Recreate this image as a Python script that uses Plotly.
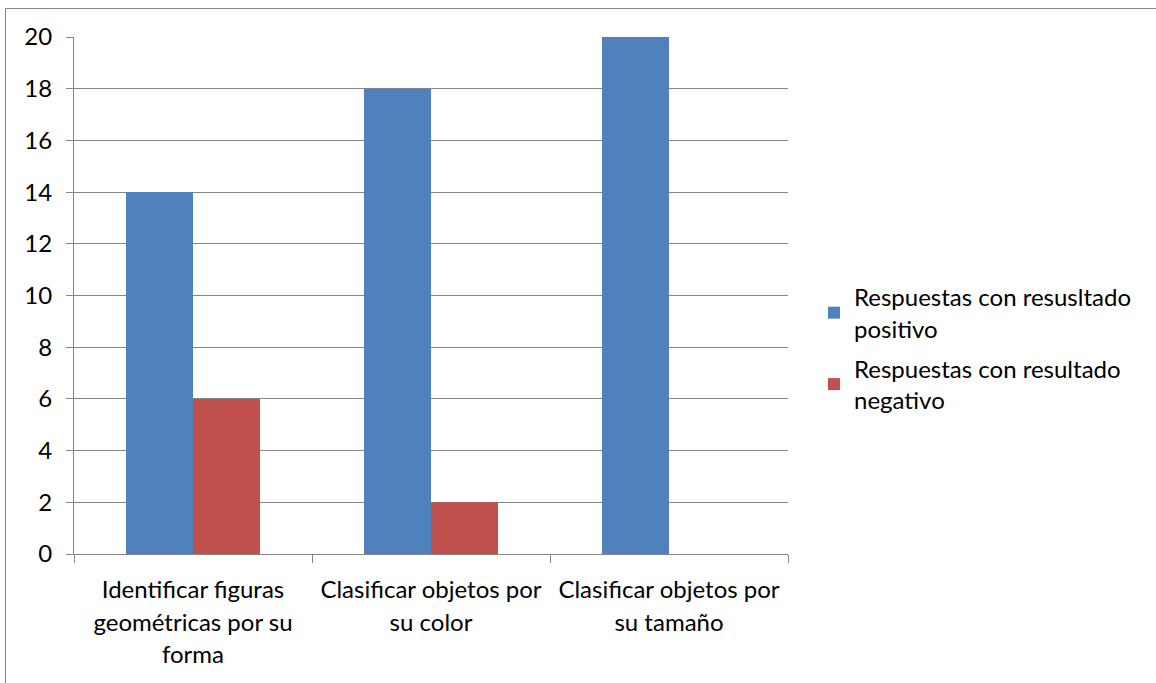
import plotly.graph_objects as go

categories = ["Identificar figuras<br>geométricas por su<br>forma",
              "Clasificar objetos por<br>su color",
              "Clasificar objetos por<br>su tamaño"]
positivo = [14, 18, 20]
negativo = [6, 2, 0]
series_names = ["Respuestas con resusltado<br>positivo",
                "Respuestas con resultado<br>negativo"]
y_ticks = [0, 2, 4, 6, 8, 10, 12, 14, 16, 18, 20]

FONT = "Lato"
GRID = "#868686"
TXT = 24

def wrap(lbl):
    return "<br>".join('<span style="font-size:%dpx">%s</span>' % (TXT, p) for p in lbl.split("<br>"))

fig = go.Figure()
fig.add_trace(go.Bar(x=categories, y=positivo, name=series_names[0],
                     marker=dict(color="#4F81BD", line=dict(width=0)), legendgroup="a"))
fig.add_trace(go.Bar(x=categories, y=negativo, name=series_names[1],
                     marker=dict(color="#C0504D", line=dict(width=0)), legendgroup="b"))

L, R, T, B = 74, 788, 37, 554
W, H = 1156, 683
pw, ph = R - L, B - T

fig.update_layout(
    width=W, height=H,
    margin=dict(l=L, r=W - R, t=T, b=H - B, pad=0),
    paper_bgcolor="white", plot_bgcolor="white",
    barmode="group", bargap=0.437, bargroupgap=0,
    font=dict(family=FONT, size=TXT, color="black"),
    showlegend=True,
    legend=dict(x=(814 - L) / pw, xanchor="left", y=1 - (275 - T) / ph, yanchor="top",
                font=dict(family=FONT, size=TXT), tracegroupgap=6,
                bgcolor="rgba(0,0,0,0)", itemwidth=30),
    xaxis=dict(tickmode="array", tickvals=categories, ticktext=[wrap(c) for c in categories],
               tickfont=dict(family=FONT, size=25), ticks="outside", ticklen=8,
               tickcolor=GRID, tickson="boundaries", showline=True, linecolor=GRID,
               linewidth=1, showgrid=False, zeroline=False, ticklabelstandoff=13),
    yaxis=dict(range=[0, 20], tickvals=y_ticks, ticks="outside", ticklen=7, tickcolor=GRID,
               showgrid=True, gridcolor=GRID, gridwidth=1, showline=True, linecolor=GRID,
               linewidth=1, zeroline=False, ticklabelstandoff=9,
               tickfont=dict(family=FONT, size=TXT)),
    shapes=[
        dict(type="line", xref="paper", yref="paper",
             x0=(5.5 - L) / pw, x1=2, y0=1 + (T - 8.5) / ph, y1=1 + (T - 8.5) / ph,
             line=dict(color=GRID, width=1)),
        dict(type="line", xref="paper", yref="paper",
             x0=(5.5 - L) / pw, x1=(5.5 - L) / pw, y0=1 + (T - 8.5) / ph, y1=-2,
             line=dict(color=GRID, width=1)),
    ],
)

fig.write_html("out.html", config={"displayModeBar": False},
               post_script="document.body.style.margin='0';")
